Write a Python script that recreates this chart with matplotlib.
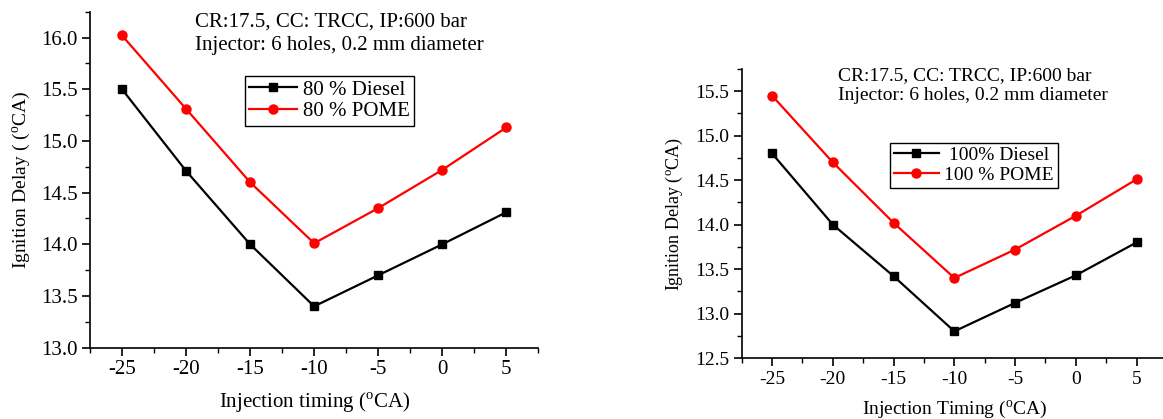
import matplotlib
matplotlib.use("Agg")
import matplotlib.pyplot as plt
from matplotlib.ticker import MultipleLocator, FormatStrFormatter

plt.rcParams["font.family"] = ["Liberation Serif", "DejaVu Serif"]
plt.rcParams["mathtext.fontset"] = "custom"
plt.rcParams["mathtext.rm"] = "Liberation Serif"
plt.rcParams["axes.unicode_minus"] = False

# Injection timing (deg CA)
timing = [-25, -20, -15, -10, -5, 0, 5]

# 80 % load
diesel_80 = [15.5, 14.71, 14.0, 13.4, 13.7, 14.0, 14.31]
pome_80 = [16.02, 15.31, 14.6, 14.01, 14.35, 14.72, 15.13]

# 100 % load
diesel_100 = [14.8, 14.0, 13.42, 12.8, 13.12, 13.43, 13.8]
pome_100 = [15.45, 14.7, 14.02, 13.4, 13.72, 14.1, 14.51]

W, H = 1163, 419
fig = plt.figure(figsize=(W / 100, H / 100), dpi=100)


def px_axes(x0, y0, x1, y1):
    return fig.add_axes([x0 / W, 1 - y1 / H, (x1 - x0) / W, (y1 - y0) / H])


def style(ax, ylim, fs):
    ax.set_xlim(-27.5, 7.5)
    ax.set_ylim(*ylim)
    ax.set_xticks(timing)
    ax.xaxis.set_minor_locator(MultipleLocator(2.5))
    ax.yaxis.set_major_locator(MultipleLocator(0.5))
    ax.yaxis.set_minor_locator(MultipleLocator(0.25))
    ax.yaxis.set_major_formatter(FormatStrFormatter("%.1f"))
    for s in ("top", "right"):
        ax.spines[s].set_visible(False)
    for s in ("left", "bottom"):
        ax.spines[s].set_linewidth(1.2)
    ax.tick_params(which="major", direction="out", length=6, width=1.2, labelsize=fs, pad=3)
    ax.tick_params(which="minor", direction="out", length=3.5, width=1.0)


# ---- left: 80 % ----
ax1 = px_axes(90, 11.7, 538.3, 347.7)
ax1.plot(timing, diesel_80, color="black", marker="s", ms=6, lw=1.6, label="80 % Diesel")
ax1.plot(timing, pome_80, color="red", marker="o", ms=6.5, lw=1.6, label="80 % POME")
style(ax1, (13.0, 16.25), 15)
ax1.set_ylabel(r"Ignition Delay ( ($^{\rm o}$CA)", fontsize=14, labelpad=6)
ax1.set_xlabel(r"Injection timing ($^{\rm o}$CA)", fontsize=15, labelpad=8)
fig.text(195 / W, 1 - 27 / H, "CR:17.5, CC: TRCC, IP:600 bar", fontsize=15, va="baseline")
fig.text(195 / W, 1 - 50 / H, "Injector: 6 holes, 0.2 mm diameter", fontsize=15, va="baseline")
ax1.legend(loc="upper left", bbox_to_anchor=(245 / W, 1 - 76 / H), bbox_transform=fig.transFigure,
           fontsize=15, frameon=True, fancybox=False, edgecolor="black", framealpha=1,
           borderpad=0.2, labelspacing=0.1, handlelength=2.3, handletextpad=0.3,
           borderaxespad=0)

# ---- right: 100 % ----
ax2 = px_axes(741.7, 69, 1167, 358)
ax2.plot(timing, diesel_100, color="black", marker="s", ms=6, lw=1.6, label=" 100% Diesel")
ax2.plot(timing, pome_100, color="red", marker="o", ms=6.5, lw=1.6, label="100 % POME")
style(ax2, (12.5, 15.75), 14)
ax2.set_ylabel(r"Ignition Delay ($^{\rm o}$CA)", fontsize=13, labelpad=7)
ax2.set_xlabel(r"Injection Timing ($^{\rm o}$CA)", fontsize=14, labelpad=8)
fig.text(838 / W, 1 - 80 / H, "CR:17.5, CC: TRCC, IP:600 bar", fontsize=14, va="baseline")
fig.text(838 / W, 1 - 100 / H, "Injector: 6 holes, 0.2 mm diameter", fontsize=14, va="baseline")
ax2.legend(loc="upper left", bbox_to_anchor=(890 / W, 1 - 142.7 / H), bbox_transform=fig.transFigure,
           fontsize=14, frameon=True, fancybox=False, edgecolor="black", framealpha=1,
           borderpad=0.2, labelspacing=0.1, handlelength=2.3, handletextpad=0.3,
           borderaxespad=0)

fig.savefig("out.png", dpi=100)
